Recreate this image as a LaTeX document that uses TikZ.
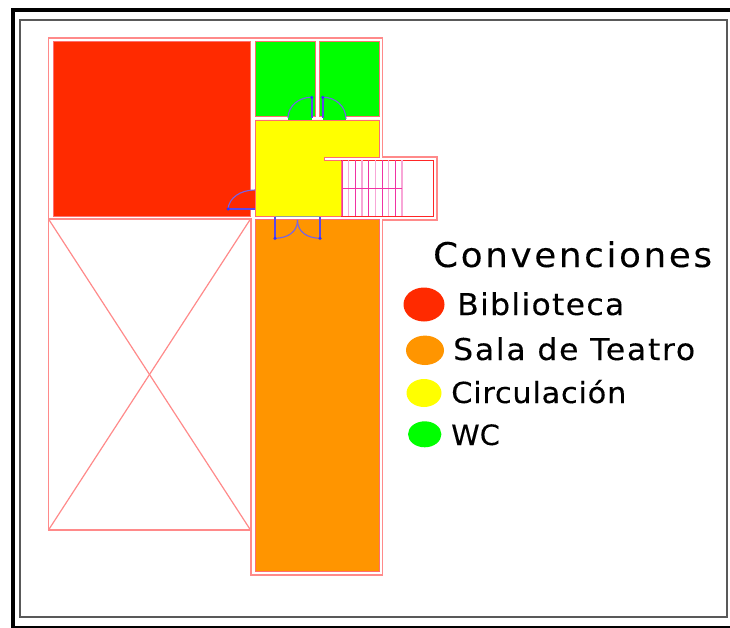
\documentclass[tikz,border=0pt]{standalone}
\usepackage{fontspec}
\setmainfont{DejaVu Sans}
\definecolor{muro}{HTML}{FF8A8A}
\definecolor{rojo}{HTML}{FF2A00}
\definecolor{verde}{HTML}{00FF00}
\definecolor{naranja}{HTML}{FF9500}
\definecolor{amarillo}{HTML}{FFFF00}
\definecolor{puerta}{HTML}{5A48E8}
\newcommand{\letra}[3]{\fontsize{#1}{#1}\selectfont\addfontfeature{FakeStretch=#2,LetterSpace=#3,FakeBold=.2}}
\tikzset{
	muro/.style={draw=muro,line width=1.2pt},
	cuarto/.style={draw=muro!80!red,line width=.8pt},
	puerta/.style={draw=puerta,line width=1.7pt},
	arco/.style={draw=puerta!85,line width=1.1pt},
	eje/.style={fill=blue!80,circle,inner sep=0pt,minimum size=3.5pt},
	rotulo/.style={anchor=base west,inner sep=0pt},
	tramo/.style={draw=magenta!80,line width=.7pt},
	tramob/.style={draw=magenta!35,line width=1.6pt},
}
\begin{document}
\begin{tikzpicture}[x=1pt,y=-1pt]
	\useasboundingbox (0,0) rectangle (730,628);
	% marcos
	\draw[line width=4.5pt] (13,630) -- (13,10) -- (730,10);
	\draw[line width=2pt] (13,627) -- (730,627);
	\draw[black!65,line width=1.4pt] (20,20) rectangle (727,617);
	
	% contorno
	\draw[muro] (48.5,38) -- (382.5,38) -- (382.5,157) -- (437,157) -- (437,220)
	-- (382.5,220) -- (382.5,575) -- (251,575) -- (251,219) -- (48.5,219) -- cycle;
	
	% cuartos
	\filldraw[fill=rojo,cuarto] (53,41) rectangle (250,216);
	\filldraw[fill=verde,cuarto] (255,41) rectangle (315,116);
	\filldraw[fill=verde,cuarto] (319,41) rectangle (379,116);
	\filldraw[fill=naranja,cuarto] (255,219) rectangle (379,571.5);
	\filldraw[fill=amarillo,cuarto] (255,120) -- (379,120) -- (379,157) -- (324,157)
	-- (324,160.5) -- (341,160.5) -- (341,216) -- (255,216) -- cycle;
	\fill[rojo] (249,190) rectangle (255,209);
	\fill[verde] (288,115) rectangle (311.7,120);
	\fill[verde] (322.7,115) rectangle (346,120);
	
	% vacio
	\draw[muro] (48.5,219) rectangle (250.5,530);
	\draw[muro] (48.5,219) -- (250.5,530);
	\draw[muro] (250.5,219) -- (48.5,530);
	
	% escalera
	\draw[red!85,line width=.8pt] (341,160.5) -- (433,160.5) -- (433,216) -- (341,216);
	\foreach \i in {0,2,...,8}
	\draw[tramo] (342+6.67*\i,160.5) -- (342+6.67*\i,216);
	\foreach \i in {1,3,...,9}
	\draw[tramob] (342+6.67*\i,160.5) -- (342+6.67*\i,216);
	\draw[tramo] (342,188.7) -- (402,188.7);
	
	% puertas
	\coordinate (ejea) at (228,209);
	\coordinate (ejeb) at (311.7,97.3);
	\coordinate (ejec) at (322.7,97.3);
	\coordinate (ejed) at (275,238.3);
	\coordinate (ejee) at (320,238.3);
	\draw[black!40,line width=1pt] (275,216.7) -- (320,216.7);
	\draw[puerta] (ejea) -- (255,209);
	\draw[arco] (ejea) .. controls (229,198) and (240,190) .. (255,190);
	\draw[puerta] (ejeb) -- (311.7,118);
	\draw[arco] (ejeb) .. controls (299,97) and (288,106) .. (288,118);
	\draw[puerta] (ejec) -- (322.7,118);
	\draw[arco] (ejec) .. controls (335,97) and (346,106) .. (346,119);
	\draw[puerta] (ejed) -- (275,216.7);
	\draw[arco] (ejed) .. controls (288,238) and (297.5,232) .. (297.5,220);
	\draw[puerta] (ejee) -- (320,216.7);
	\draw[arco] (ejee) .. controls (307,238) and (297.5,232) .. (297.5,220);
	\foreach \e in {ejea,ejeb,ejec,ejed,ejee}
	\node[eje] (p\e) at (\e) {};
	
	% convenciones
	\node[rotulo] (conv) at (433,267) {\letra{34}{1.05}{7.8}Convenciones};
	\fill[rojo] (424,304.5) ellipse (20.5 and 17);
	\fill[naranja] (425,350.3) ellipse (19 and 14.7);
	\fill[amarillo] (424,393) ellipse (17.5 and 14);
	\fill[verde] (424.7,434.3) ellipse (16.7 and 13);
	\node[rotulo] (bib) at (457,315) {\letra{30}{1.05}{4.3}Biblioteca};
	\node[rotulo] (sala) at (453,360) {\letra{30}{1.05}{5.7}Sala de Teatro};
	\node[rotulo] (circ) at (451,403) {\letra{29}{1.05}{2.5}Circulación};
	\node[rotulo] (wc) at (451,445) {\letra{28}{1.03}{0}WC};
\end{tikzpicture}
\end{document}
